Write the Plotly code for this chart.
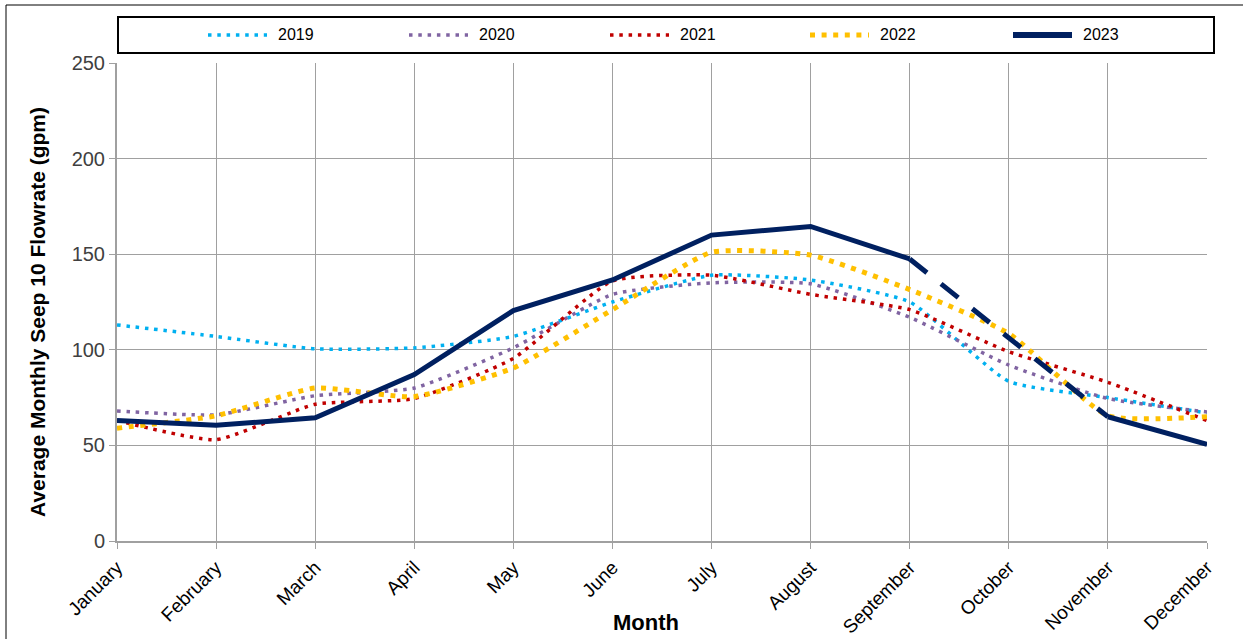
import plotly.graph_objects as go

months = ["January", "February", "March", "April", "May", "June", "July",
          "August", "September", "October", "November", "December"]
y2019 = [113, 107, 100.5, 101, 107, 125, 139, 136.5, 125, 83.5, 75, 67]
y2020 = [68, 66, 76, 80, 101, 129, 135, 134.5, 117, 92, 74.5, 67.5]
y2021 = [63, 53, 71.5, 74.5, 95.5, 136, 139, 129, 121, 99, 83, 63]
y2022 = [59, 65.5, 80, 75.5, 90.5, 121, 151, 149.5, 131.5, 108.5, 65.5, 65]
y2023 = [63, 60.5, 64.5, 87, 120.5, 136.5, 160, 164.5, 147.5, 106, 65, 50.5]
dashed_months = ["September", "October", "November"]
series_names = ["2019", "2020", "2021", "2022", "2023"]
series_colors = ["#00B0F0", "#8064A2", "#C00000", "#FFC000", "#002060"]

FONT = "Liberation Sans, Arial, sans-serif"
W, H = 1243, 639
L, R, T, B = 117, 1207, 63, 541


def px(p):
    return (p - L) / (R - L)


def py(p):
    return (B - p) / (B - T)


dot_styles = {
    "2019": dict(width=3.5, dash="3.5px,5.8px"),
    "2020": dict(width=3.5, dash="3.5px,5.8px"),
    "2021": dict(width=3.5, dash="3.5px,5.8px"),
    "2022": dict(width=5, dash="5px,6.6px"),
}

fig = go.Figure()
for name, ys, col in zip(series_names[:4], [y2019, y2020, y2021, y2022], series_colors[:4]):
    st = dot_styles[name]
    fig.add_trace(go.Scatter(x=months, y=ys, name=name, mode="lines", showlegend=False,
                             line=dict(color=col, width=st["width"], dash=st["dash"],
                                       shape="spline", smoothing=0.5)))

solid = [None if m == "October" else v for m, v in zip(months, y2023)]
dash_part = [v if m in dashed_months else None for m, v in zip(months, y2023)]
fig.add_trace(go.Scatter(x=months, y=solid, name="2023", mode="lines",
                         connectgaps=False, showlegend=False,
                         line=dict(color=series_colors[4], width=5)))
fig.add_trace(go.Scatter(x=months, y=dash_part, name="2023 (dashed)", mode="lines",
                         showlegend=False, connectgaps=False,
                         line=dict(color=series_colors[4], width=5, dash="22px,18px")))

# outer frame (right and bottom edges lie outside the view)
fig.add_shape(type="rect", xref="paper", yref="paper",
              x0=px(6), x1=px(1260), y0=py(680), y1=py(5),
              line=dict(color="black", width=1), fillcolor="rgba(0,0,0,0)", layer="below")
# legend box
fig.add_shape(type="rect", xref="paper", yref="paper",
              x0=px(118), x1=px(1214), y0=py(53), y1=py(17),
              line=dict(color="black", width=2), fillcolor="white", layer="below")

# custom legend entries
leg_starts = [208, 409, 610, 810, 1013]
for i, (name, col) in enumerate(zip(series_names, series_colors)):
    x0 = leg_starts[i]
    if name == "2023":
        ln = dict(color=col, width=6)
    else:
        st = dot_styles[name]
        ln = dict(color=col, width=st["width"], dash=st["dash"])
    fig.add_shape(type="line", xref="paper", yref="paper",
                  x0=px(x0), x1=px(x0 + 59), y0=py(35), y1=py(35), line=ln)
    fig.add_annotation(xref="paper", yref="paper", x=px(x0 + 68), y=py(35),
                       xanchor="left", yanchor="middle", showarrow=False,
                       text=name, font=dict(size=16, color="#000000", family=FONT))

# axis titles
fig.add_annotation(xref="paper", yref="paper", x=px(646), y=py(622),
                   xanchor="center", yanchor="middle", showarrow=False,
                   text="<b>Month</b>", font=dict(size=22, color="#000000", family=FONT))
fig.add_annotation(xref="paper", yref="paper", x=px(37), y=py(312),
                   xanchor="center", yanchor="middle", showarrow=False, textangle=-90,
                   text="<b>Average Monthly Seep 10 Flowrate (gpm)</b>",
                   font=dict(size=21, color="#000000", family=FONT))

fig.update_layout(
    width=W, height=H,
    margin=dict(l=L, r=W - R, t=T, b=H - B, autoexpand=False),
    paper_bgcolor="white", plot_bgcolor="white",
    font=dict(family=FONT, color="#404040"),
    showlegend=False,
)
fig.update_xaxes(type="category", range=[0, 11], categoryorder="array",
                 categoryarray=months, automargin=False,
                 showgrid=True, gridcolor="#A0A0A0", gridwidth=1,
                 showline=True, linecolor="#A0A0A0", linewidth=2,
                 ticks="outside", ticklen=6, tickcolor="#A0A0A0",
                 tickangle=-45, tickfont=dict(size=19, color="#000000"))
fig.update_yaxes(range=[0, 250], dtick=50, automargin=False,
                 showgrid=True, gridcolor="#A0A0A0", gridwidth=1,
                 showline=True, linecolor="#A0A0A0", linewidth=2,
                 ticks="outside", ticklen=6, tickcolor="#A0A0A0",
                 tickfont=dict(size=20, color="#404040"),
                 zeroline=False)

fig.write_html("out.html", config={"displayModeBar": False},
               post_script="document.body.style.margin='0px';"
                           "document.body.style.overflow='hidden';")
